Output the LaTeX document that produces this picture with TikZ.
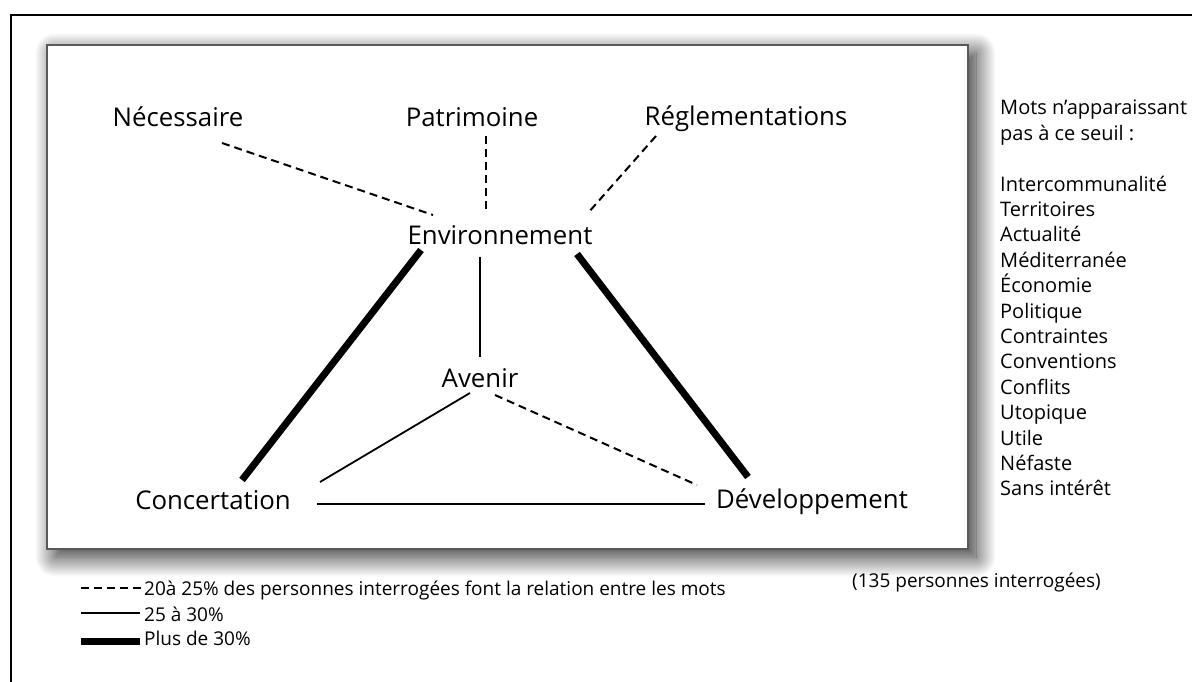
\documentclass[tikz,border=0pt]{standalone}
\usepackage{fontspec}
\setmainfont{Open Sans}
\usetikzlibrary{shadows.blur,calc}
\begin{document}
\begin{tikzpicture}[x=1pt,y=-1pt,
  word/.style={anchor=base, inner sep=0pt, font=\fontsize{25.8}{30}\selectfont},
  listword/.style={anchor=base west, inner sep=0pt, font=\fontsize{20}{24}\selectfont},
  legtext/.style={anchor=base west, inner sep=0pt, font=\fontsize{19}{22}\selectfont},
  relweak/.style={dash pattern=on 8pt off 5pt, line width=2pt},
  relmid/.style={line width=1.8pt},
  relstrong/.style={line width=7pt},
  boxline/.style={draw=black!65, line width=1.5pt},
]
\useasboundingbox (0,0) rectangle (1192,682);
% outer frame
\draw[line width=2.5pt] (11,682) -- (11,15) -- (1192,15);
% inner box with shadow
\path[fill=white, blur shadow={shadow xshift=8pt, shadow yshift=-8pt, shadow blur radius=20pt, shadow blur steps=30, shadow opacity=85}] (47,45) rectangle (968,549);
\draw[boxline] (47,45) rectangle (968,549);

% words
\node[word] (nec)  at (178,127) {Nécessaire};
\node[word] (pat)  at (472,127) {Patrimoine};
\node[word] (reg)  at (746,126) {Réglementations};
\node[word] (env)  at (500,244) {Environnement};
\node[word] (av)   at (480,387) {Avenir};
\node[word] (conc) at (213,509) {Concertation};
\node[word] (dev)  at (812,508) {Développement};

% relations
\draw[relweak] ($(nec.base)+(44,16)$) -- ($(env.base)+(-67,-29)$);
\draw[relweak] ($(pat.base)+(14,9)$) -- ($(env.base)+(-14,-31)$);
\draw[relweak] ($(reg.base)+(-90,10)$) -- ($(env.base)+(88,-31)$);
\draw[relstrong] ($(env.base)+(-79,6)$) -- ($(conc.base)+(29,-29)$);
\draw[relstrong] ($(env.base)+(77,10)$) -- ($(dev.base)+(-64,-31)$);
\draw[relmid] ($(env.base)+(-20,13)$) -- ($(av.base)+(0,-30)$);
\draw[relmid] ($(av.base)+(-10,6)$) -- ($(conc.base)+(107,-27)$);
\draw[relweak] ($(av.base)+(15,8)$) -- ($(dev.base)+(-115,-23)$);
\draw[relmid] ($(conc.base)+(104,-5)$) -- ($(dev.base)+(-107,-4)$);

% list of words
\foreach \t [count=\i from 0] in {Mots n'apparaissant, pas à ce seuil :, , Intercommunalité, Territoires, Actualité, Méditerranée, Économie, Politique, Contraintes, Conventions, Conflits, Utopique, Utile, Néfaste, Sans intérêt}
  \node[listword] (list\i) at (1000,{114.8+25.4*\i}) {\t};

% legend
\node[legtext] (leg1) at (144,595) {20à 25\% des personnes interrogées font la relation entre les mots};
\node[legtext] (leg2) at (144,621) {25 à 30\%};
\node[legtext] (leg3) at (144,645) {Plus de 30\%};
\draw[relweak] (81,588) -- (142,588);
\draw[relmid] (81,613) -- (140,613);
\draw[relstrong] (81,641) -- (140,641);
\node[legtext] (count) at (852,587) {(135 personnes interrogées)};
\end{tikzpicture}
\end{document}
